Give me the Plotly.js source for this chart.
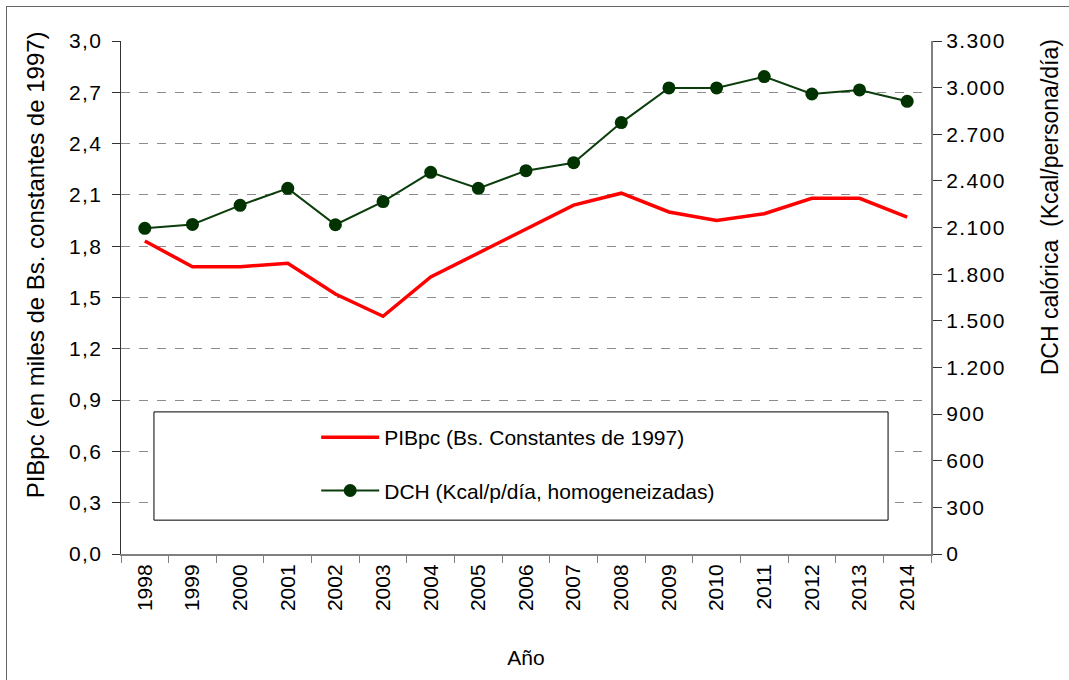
<!DOCTYPE html>
<html>
<head>
<meta charset="utf-8">
<script src="https://cdn.plot.ly/plotly-3.0.1.min.js"></script>
<style>
html,body{margin:0;padding:0;background:#fff;}
#frame{position:absolute;left:6px;top:6px;width:1080px;height:690px;border:1.5px solid #666;box-sizing:border-box;}
#chart{position:absolute;left:0;top:0;width:1069px;height:680px;}
.ytick text, .y2tick text{letter-spacing:1.4px;}
</style>
</head>
<body>
<div id="frame"></div>
<div id="chart"></div>
<script>
const years = ['1998','1999','2000','2001','2002','2003','2004','2005','2006','2007','2008','2009','2010','2011','2012','2013','2014'];
const pibpc = [1.83, 1.68, 1.68, 1.70, 1.52, 1.39, 1.62, 1.76, 1.90, 2.04, 2.11, 2.00, 1.95, 1.99, 2.08, 2.08, 1.97];
const dch = [2095, 2120, 2243, 2352, 2118, 2267, 2455, 2352, 2466, 2517, 2775, 2998, 2998, 3071, 2959, 2985, 2912];
const leftTicks = [0, 0.3, 0.6, 0.9, 1.2, 1.5, 1.8, 2.1, 2.4, 2.7, 3.0];
const rightTicks = [0, 300, 600, 900, 1200, 1500, 1800, 2100, 2400, 2700, 3000, 3300];
const leftTitle = 'PIBpc (en miles de Bs. constantes de 1997)';
const rightTitle = 'DCH calórica  (Kcal/persona/día)';
const xTitle = 'Año';

const FONT = 'Liberation Sans, Arial, sans-serif';
const nb = s => s.replace(/ /g, '\u00a0');

const traces = [
  {x: years, y: pibpc, type: 'scatter', mode: 'lines', name: 'PIBpc (Bs. Constantes de 1997)',
   line: {color: '#FF0000', width: 3.5}, yaxis: 'y', legendgroup: 'a'},
  {x: years, y: dch, type: 'scatter', mode: 'lines+markers', name: 'DCH (Kcal/p/día, homogeneizadas)',
   line: {color: '#0B3D0B', width: 2}, marker: {color: '#003300', size: 13}, yaxis: 'y2', legendgroup: 'b'}
];

const layout = {
  width: 1069, height: 680,
  margin: {l: 121, r: 138, t: 41, b: 126},
  paper_bgcolor: 'rgba(0,0,0,0)', plot_bgcolor: '#fff',
  separators: ',.',
  font: {family: FONT, color: '#000', size: 21},
  showlegend: true,
  legend: {x: 0.241, y: 0.267, xanchor: 'left', yanchor: 'top', bgcolor: 'rgba(0,0,0,0)',
           borderwidth: 0, font: {family: FONT, size: 21}, tracegroupgap: 23, itemwidth: 58},
  xaxis: {type: 'category', tickson: 'boundaries', ticks: 'outside', ticklen: 7, tickcolor: '#808080',
          tickangle: -90, showline: true, linecolor: '#808080', linewidth: 2, showgrid: false,
          tickfont: {size: 21}, range: [-0.5, 16.5],
          title: {text: xTitle, font: {size: 21}, standoff: 40}},
  yaxis: {range: [0, 3.0], tickvals: leftTicks, tickformat: '.1f', ticks: 'outside', ticklen: 8,
          tickcolor: '#333', showline: true, linecolor: '#333', linewidth: 1.5,
          showgrid: true, gridcolor: '#8c8c8c', griddash: 'dash', gridwidth: 1, zeroline: false,
          tickfont: {size: 21}, ticklabelstandoff: 5},
  yaxis2: {range: [0, 3300], tickvals: rightTicks, tickformat: ',d', overlaying: 'y', side: 'right',
           ticks: 'outside', ticklen: 9, tickcolor: '#333', showline: true, linecolor: '#808080', linewidth: 2,
           showgrid: false, zeroline: false, tickfont: {size: 21}, ticklabelstandoff: 0},
  yaxis3: {range: [0, 3300], tickvals: rightTicks, overlaying: 'y', side: 'right', ticks: 'inside',
           ticklen: 9, tickcolor: '#333', showticklabels: false, showline: false, showgrid: false, zeroline: false},
  annotations: [
    {text: nb(leftTitle), xref: 'paper', yref: 'paper', x: -0.106, y: 0.563, xanchor: 'center', yanchor: 'middle',
     textangle: -90, showarrow: false, font: {family: FONT, size: 24, color: '#000'}},
    {text: nb(rightTitle), xref: 'paper', yref: 'paper', x: 1.147, y: 0.676, xanchor: 'center', yanchor: 'middle',
     textangle: -90, showarrow: false, font: {family: FONT, size: 23, color: '#000'}}
  ],
  shapes: [
    {type: 'rect', xref: 'paper', yref: 'paper', x0: 0.0407, x1: 0.947, y0: 0.066, y1: 0.277,
     line: {color: '#000', width: 1}, fillcolor: '#fff', layer: 'above'}
  ]
};

Plotly.newPlot('chart', traces, layout, {displayModeBar: false, staticPlot: true});
</script>
</body>
</html>
